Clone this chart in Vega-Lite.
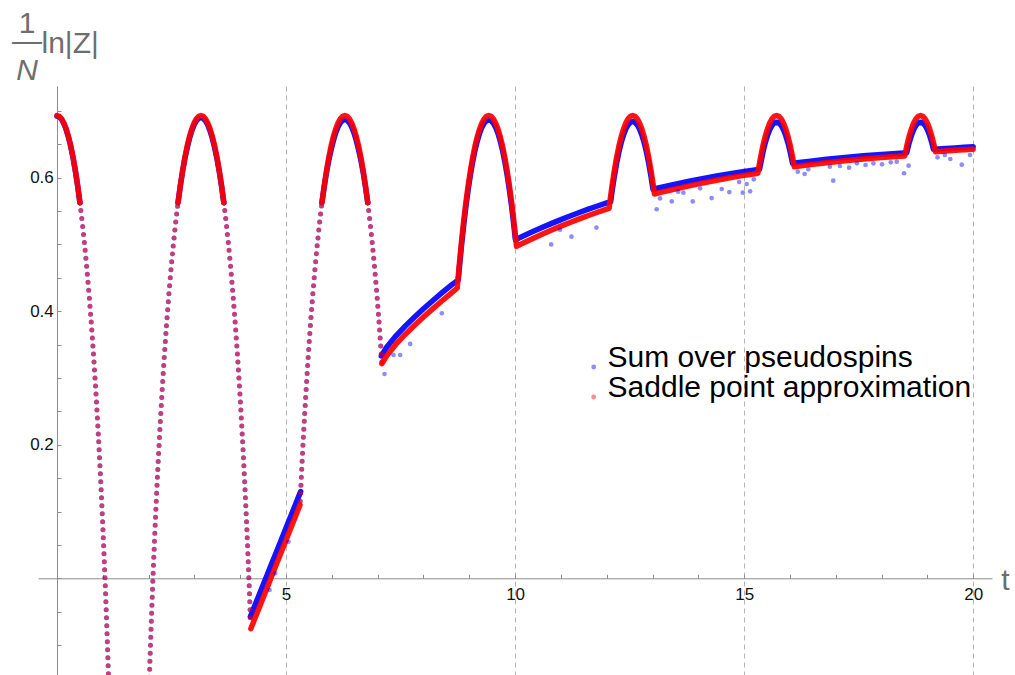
{
  "$schema": "https://vega.github.io/schema/vega-lite/v6.json",
  "width": 954,
  "height": 589,
  "autosize": {"type": "none"},
  "padding": {"left": 38, "top": 86, "right": 23, "bottom": 0},
  "background": "white",
  "config": {"view": {"stroke": null}, "font": "Liberation Sans"},
  "title": {
    "text": "1",
    "subtitle": ["—", "N"],
    "anchor": "start",
    "frame": "group",
    "align": "center",
    "dx": -11,
    "offset": -57.2,
    "font": "Liberation Sans",
    "fontSize": 30,
    "fontWeight": "normal",
    "color": "#6e6e6e",
    "subtitleFont": "Liberation Sans",
    "subtitleFontSize": 30,
    "subtitleFontStyle": "italic",
    "subtitleColor": "#6e6e6e",
    "subtitleLineHeight": 28.7,
    "subtitlePadding": -12
  },
  "datasets": {
    "grid": [{"v": 0.2}, {"v": 0.4}, {"v": 0.6}],
    "sum_band": [
      {"t": 0, "v": 0.6921, "s": 1}, {"t": 0.05, "v": 0.6909, "s": 1}, {"t": 0.1, "v": 0.6871, "s": 1}, {"t": 0.15, "v": 0.6809, "s": 1}, {"t": 0.2, "v": 0.672, "s": 1}, {"t": 0.25, "v": 0.6606, "s": 1}, {"t": 0.3, "v": 0.6465, "s": 1}, {"t": 0.35, "v": 0.6299, "s": 1}, {"t": 0.4, "v": 0.6104, "s": 1}, {"t": 0.45, "v": 0.588, "s": 1}, {"t": 0.5, "v": 0.5626, "s": 1},
      {"t": 2.6416, "v": 0.5626, "s": 2}, {"t": 2.6916, "v": 0.5873, "s": 2}, {"t": 2.7416, "v": 0.6094, "s": 2}, {"t": 2.7916, "v": 0.6286, "s": 2}, {"t": 2.8416, "v": 0.6445, "s": 2}, {"t": 2.8916, "v": 0.6586, "s": 2}, {"t": 2.9416, "v": 0.67, "s": 2}, {"t": 2.9916, "v": 0.6789, "s": 2}, {"t": 3.0416, "v": 0.6851, "s": 2}, {"t": 3.0916, "v": 0.6889, "s": 2}, {"t": 3.1416, "v": 0.6901, "s": 2}, {"t": 3.1916, "v": 0.6889, "s": 2}, {"t": 3.2416, "v": 0.6851, "s": 2}, {"t": 3.2916, "v": 0.6789, "s": 2}, {"t": 3.3416, "v": 0.67, "s": 2}, {"t": 3.3916, "v": 0.6586, "s": 2}, {"t": 3.4416, "v": 0.6445, "s": 2}, {"t": 3.4916, "v": 0.6286, "s": 2}, {"t": 3.5416, "v": 0.6094, "s": 2}, {"t": 3.5916, "v": 0.5873, "s": 2}, {"t": 3.6416, "v": 0.5626, "s": 2},
      {"t": 4.2205, "v": -0.0575, "s": 3}, {"t": 4.3, "v": -0.0439, "s": 3}, {"t": 4.4, "v": -0.0268, "s": 3}, {"t": 4.5, "v": -0.0098, "s": 3}, {"t": 4.6, "v": 0.0073, "s": 3}, {"t": 4.7, "v": 0.0244, "s": 3}, {"t": 4.8, "v": 0.0414, "s": 3}, {"t": 4.9, "v": 0.0585, "s": 3}, {"t": 5.0, "v": 0.0756, "s": 3}, {"t": 5.1, "v": 0.0926, "s": 3}, {"t": 5.2, "v": 0.1097, "s": 3}, {"t": 5.3, "v": 0.1268, "s": 3}, {"t": 5.319, "v": 0.13, "s": 3},
      {"t": 5.7832, "v": 0.5626, "s": 4}, {"t": 5.8332, "v": 0.5863, "s": 4}, {"t": 5.8832, "v": 0.6079, "s": 4}, {"t": 5.9332, "v": 0.6261, "s": 4}, {"t": 5.9832, "v": 0.6415, "s": 4}, {"t": 6.0332, "v": 0.6556, "s": 4}, {"t": 6.0832, "v": 0.667, "s": 4}, {"t": 6.1332, "v": 0.6759, "s": 4}, {"t": 6.1832, "v": 0.6821, "s": 4}, {"t": 6.2332, "v": 0.6859, "s": 4}, {"t": 6.2832, "v": 0.6871, "s": 4}, {"t": 6.3332, "v": 0.6859, "s": 4}, {"t": 6.3832, "v": 0.6821, "s": 4}, {"t": 6.4332, "v": 0.6759, "s": 4}, {"t": 6.4832, "v": 0.667, "s": 4}, {"t": 6.5332, "v": 0.6556, "s": 4}, {"t": 6.5832, "v": 0.6415, "s": 4}, {"t": 6.6332, "v": 0.6261, "s": 4}, {"t": 6.6832, "v": 0.6079, "s": 4}, {"t": 6.7332, "v": 0.5863, "s": 4}, {"t": 6.7832, "v": 0.5626, "s": 4},
      {"t": 7.08, "v": 0.333, "s": 5}, {"t": 7.2, "v": 0.3466, "s": 5}, {"t": 7.4, "v": 0.3632, "s": 5}, {"t": 7.6, "v": 0.3777, "s": 5}, {"t": 7.8, "v": 0.391, "s": 5}, {"t": 8.0, "v": 0.4037, "s": 5}, {"t": 8.2, "v": 0.4157, "s": 5}, {"t": 8.4, "v": 0.4274, "s": 5}, {"t": 8.6, "v": 0.4387, "s": 5}, {"t": 8.7598, "v": 0.447, "s": 5},
      {"t": 8.7748, "v": 0.4586, "s": 5}, {"t": 8.8248, "v": 0.4947, "s": 5}, {"t": 8.8748, "v": 0.5271, "s": 5}, {"t": 8.9248, "v": 0.5561, "s": 5}, {"t": 8.9748, "v": 0.5818, "s": 5}, {"t": 9.0248, "v": 0.6044, "s": 5}, {"t": 9.0748, "v": 0.6241, "s": 5}, {"t": 9.1248, "v": 0.641, "s": 5}, {"t": 9.1748, "v": 0.6551, "s": 5}, {"t": 9.2248, "v": 0.6665, "s": 5}, {"t": 9.2748, "v": 0.6754, "s": 5}, {"t": 9.3248, "v": 0.6816, "s": 5}, {"t": 9.3748, "v": 0.6854, "s": 5}, {"t": 9.4248, "v": 0.6866, "s": 5}, {"t": 9.4748, "v": 0.6854, "s": 5}, {"t": 9.5248, "v": 0.6816, "s": 5}, {"t": 9.5748, "v": 0.6754, "s": 5}, {"t": 9.6248, "v": 0.6665, "s": 5}, {"t": 9.6748, "v": 0.6551, "s": 5}, {"t": 9.7248, "v": 0.641, "s": 5}, {"t": 9.7748, "v": 0.6241, "s": 5}, {"t": 9.8248, "v": 0.6044, "s": 5}, {"t": 9.8748, "v": 0.5818, "s": 5}, {"t": 9.9248, "v": 0.5561, "s": 5}, {"t": 9.9748, "v": 0.5271, "s": 5}, {"t": 10.0065, "v": 0.507, "s": 5},
      {"t": 10.2, "v": 0.5133, "s": 5}, {"t": 10.4, "v": 0.5196, "s": 5}, {"t": 10.6, "v": 0.5257, "s": 5}, {"t": 10.8, "v": 0.5316, "s": 5}, {"t": 11.0, "v": 0.5372, "s": 5}, {"t": 11.2, "v": 0.5426, "s": 5}, {"t": 11.4, "v": 0.5479, "s": 5}, {"t": 11.6, "v": 0.5529, "s": 5}, {"t": 11.8, "v": 0.5576, "s": 5}, {"t": 12.0, "v": 0.5621, "s": 5}, {"t": 12.086, "v": 0.564, "s": 5},
      {"t": 12.1164, "v": 0.5793, "s": 5}, {"t": 12.1664, "v": 0.6019, "s": 5}, {"t": 12.2164, "v": 0.6216, "s": 5}, {"t": 12.2664, "v": 0.6385, "s": 5}, {"t": 12.3164, "v": 0.6526, "s": 5}, {"t": 12.3664, "v": 0.664, "s": 5}, {"t": 12.4164, "v": 0.6729, "s": 5}, {"t": 12.4664, "v": 0.6791, "s": 5}, {"t": 12.5164, "v": 0.6829, "s": 5}, {"t": 12.5664, "v": 0.6841, "s": 5}, {"t": 12.6164, "v": 0.6829, "s": 5}, {"t": 12.6664, "v": 0.6791, "s": 5}, {"t": 12.7164, "v": 0.6729, "s": 5}, {"t": 12.7664, "v": 0.664, "s": 5}, {"t": 12.8164, "v": 0.6526, "s": 5}, {"t": 12.8664, "v": 0.6385, "s": 5}, {"t": 12.9164, "v": 0.6216, "s": 5}, {"t": 12.9664, "v": 0.6019, "s": 5}, {"t": 13.0096, "v": 0.5826, "s": 5},
      {"t": 13.2, "v": 0.5857, "s": 5}, {"t": 13.4, "v": 0.5887, "s": 5}, {"t": 13.6, "v": 0.5917, "s": 5}, {"t": 13.8, "v": 0.5946, "s": 5}, {"t": 14.0, "v": 0.5974, "s": 5}, {"t": 14.2, "v": 0.5999, "s": 5}, {"t": 14.4, "v": 0.6024, "s": 5}, {"t": 14.6, "v": 0.6048, "s": 5}, {"t": 14.8, "v": 0.6071, "s": 5}, {"t": 15.0, "v": 0.6093, "s": 5}, {"t": 15.2, "v": 0.6112, "s": 5}, {"t": 15.3368, "v": 0.6126, "s": 5},
      {"t": 15.358, "v": 0.6206, "s": 5}, {"t": 15.408, "v": 0.6375, "s": 5}, {"t": 15.458, "v": 0.6516, "s": 5}, {"t": 15.508, "v": 0.663, "s": 5}, {"t": 15.558, "v": 0.6719, "s": 5}, {"t": 15.608, "v": 0.6781, "s": 5}, {"t": 15.658, "v": 0.6819, "s": 5}, {"t": 15.708, "v": 0.6831, "s": 5}, {"t": 15.758, "v": 0.6819, "s": 5}, {"t": 15.808, "v": 0.6781, "s": 5}, {"t": 15.858, "v": 0.6719, "s": 5}, {"t": 15.908, "v": 0.663, "s": 5}, {"t": 15.958, "v": 0.6516, "s": 5}, {"t": 16.008, "v": 0.6375, "s": 5}, {"t": 16.0555, "v": 0.6215, "s": 5},
      {"t": 16.4, "v": 0.6244, "s": 5}, {"t": 16.8, "v": 0.6275, "s": 5}, {"t": 17.2, "v": 0.6303, "s": 5}, {"t": 17.6, "v": 0.6327, "s": 5}, {"t": 18.0, "v": 0.6349, "s": 5}, {"t": 18.4, "v": 0.6367, "s": 5}, {"t": 18.5496, "v": 0.6374, "s": 5},
      {"t": 18.5996, "v": 0.6516, "s": 5}, {"t": 18.6496, "v": 0.663, "s": 5}, {"t": 18.6996, "v": 0.6719, "s": 5}, {"t": 18.7496, "v": 0.6781, "s": 5}, {"t": 18.7996, "v": 0.6819, "s": 5}, {"t": 18.8496, "v": 0.6831, "s": 5}, {"t": 18.8996, "v": 0.6819, "s": 5}, {"t": 18.9496, "v": 0.6781, "s": 5}, {"t": 18.9996, "v": 0.6719, "s": 5}, {"t": 19.0496, "v": 0.663, "s": 5}, {"t": 19.0996, "v": 0.6516, "s": 5}, {"t": 19.1328, "v": 0.6425, "s": 5},
      {"t": 19.4, "v": 0.6437, "s": 5}, {"t": 19.6, "v": 0.6446, "s": 5}, {"t": 19.8, "v": 0.6455, "s": 5}, {"t": 20.0, "v": 0.6464, "s": 5}
    ],
    "saddle_band": [
      {"t": 0, "v": 0.6931, "s": 1}, {"t": 0.05, "v": 0.6919, "s": 1}, {"t": 0.1, "v": 0.6881, "s": 1}, {"t": 0.15, "v": 0.6819, "s": 1}, {"t": 0.2, "v": 0.673, "s": 1}, {"t": 0.25, "v": 0.6616, "s": 1}, {"t": 0.3, "v": 0.6475, "s": 1}, {"t": 0.35, "v": 0.6306, "s": 1}, {"t": 0.4, "v": 0.6109, "s": 1}, {"t": 0.45, "v": 0.5883, "s": 1}, {"t": 0.5, "v": 0.5626, "s": 1},
      {"t": 2.6416, "v": 0.5626, "s": 2}, {"t": 2.6916, "v": 0.5883, "s": 2}, {"t": 2.7416, "v": 0.6109, "s": 2}, {"t": 2.7916, "v": 0.6306, "s": 2}, {"t": 2.8416, "v": 0.6475, "s": 2}, {"t": 2.8916, "v": 0.6616, "s": 2}, {"t": 2.9416, "v": 0.673, "s": 2}, {"t": 2.9916, "v": 0.6819, "s": 2}, {"t": 3.0416, "v": 0.6881, "s": 2}, {"t": 3.0916, "v": 0.6919, "s": 2}, {"t": 3.1416, "v": 0.6931, "s": 2}, {"t": 3.1916, "v": 0.6919, "s": 2}, {"t": 3.2416, "v": 0.6881, "s": 2}, {"t": 3.2916, "v": 0.6819, "s": 2}, {"t": 3.3416, "v": 0.673, "s": 2}, {"t": 3.3916, "v": 0.6616, "s": 2}, {"t": 3.4416, "v": 0.6475, "s": 2}, {"t": 3.4916, "v": 0.6306, "s": 2}, {"t": 3.5416, "v": 0.6109, "s": 2}, {"t": 3.5916, "v": 0.5883, "s": 2}, {"t": 3.6416, "v": 0.5626, "s": 2},
      {"t": 4.2306, "v": -0.0755, "s": 3}, {"t": 4.3, "v": -0.0635, "s": 3}, {"t": 4.4, "v": -0.0462, "s": 3}, {"t": 4.5, "v": -0.029, "s": 3}, {"t": 4.6, "v": -0.0117, "s": 3}, {"t": 4.7, "v": 0.0056, "s": 3}, {"t": 4.8, "v": 0.0229, "s": 3}, {"t": 4.9, "v": 0.0402, "s": 3}, {"t": 5.0, "v": 0.0575, "s": 3}, {"t": 5.1, "v": 0.0748, "s": 3}, {"t": 5.2, "v": 0.092, "s": 3}, {"t": 5.304, "v": 0.11, "s": 3},
      {"t": 5.7832, "v": 0.5626, "s": 4}, {"t": 5.8332, "v": 0.5883, "s": 4}, {"t": 5.8832, "v": 0.6109, "s": 4}, {"t": 5.9332, "v": 0.6306, "s": 4}, {"t": 5.9832, "v": 0.6475, "s": 4}, {"t": 6.0332, "v": 0.6616, "s": 4}, {"t": 6.0832, "v": 0.673, "s": 4}, {"t": 6.1332, "v": 0.6819, "s": 4}, {"t": 6.1832, "v": 0.6881, "s": 4}, {"t": 6.2332, "v": 0.6919, "s": 4}, {"t": 6.2832, "v": 0.6931, "s": 4}, {"t": 6.3332, "v": 0.6919, "s": 4}, {"t": 6.3832, "v": 0.6881, "s": 4}, {"t": 6.4332, "v": 0.6819, "s": 4}, {"t": 6.4832, "v": 0.673, "s": 4}, {"t": 6.5332, "v": 0.6616, "s": 4}, {"t": 6.5832, "v": 0.6475, "s": 4}, {"t": 6.6332, "v": 0.6306, "s": 4}, {"t": 6.6832, "v": 0.6109, "s": 4}, {"t": 6.7332, "v": 0.5883, "s": 4}, {"t": 6.7832, "v": 0.5626, "s": 4},
      {"t": 7.0932, "v": 0.3214, "s": 5}, {"t": 7.2, "v": 0.3337, "s": 5}, {"t": 7.4, "v": 0.3506, "s": 5}, {"t": 7.6, "v": 0.3652, "s": 5}, {"t": 7.8, "v": 0.3787, "s": 5}, {"t": 8.0, "v": 0.3914, "s": 5}, {"t": 8.2, "v": 0.4036, "s": 5}, {"t": 8.4, "v": 0.4153, "s": 5}, {"t": 8.6, "v": 0.4267, "s": 5}, {"t": 8.7365, "v": 0.4348, "s": 5},
      {"t": 8.7748, "v": 0.4651, "s": 5}, {"t": 8.8248, "v": 0.5012, "s": 5}, {"t": 8.8748, "v": 0.5336, "s": 5}, {"t": 8.9248, "v": 0.5626, "s": 5}, {"t": 8.9748, "v": 0.5883, "s": 5}, {"t": 9.0248, "v": 0.6109, "s": 5}, {"t": 9.0748, "v": 0.6306, "s": 5}, {"t": 9.1248, "v": 0.6475, "s": 5}, {"t": 9.1748, "v": 0.6616, "s": 5}, {"t": 9.2248, "v": 0.673, "s": 5}, {"t": 9.2748, "v": 0.6819, "s": 5}, {"t": 9.3248, "v": 0.6881, "s": 5}, {"t": 9.3748, "v": 0.6919, "s": 5}, {"t": 9.4248, "v": 0.6931, "s": 5}, {"t": 9.4748, "v": 0.6919, "s": 5}, {"t": 9.5248, "v": 0.6881, "s": 5}, {"t": 9.5748, "v": 0.6819, "s": 5}, {"t": 9.6248, "v": 0.673, "s": 5}, {"t": 9.6748, "v": 0.6616, "s": 5}, {"t": 9.7248, "v": 0.6475, "s": 5}, {"t": 9.7748, "v": 0.6306, "s": 5}, {"t": 9.8248, "v": 0.6109, "s": 5}, {"t": 9.8748, "v": 0.5883, "s": 5}, {"t": 9.9248, "v": 0.5626, "s": 5}, {"t": 9.9748, "v": 0.5336, "s": 5}, {"t": 10.0248, "v": 0.5012, "s": 5}, {"t": 10.0308, "v": 0.4971, "s": 5},
      {"t": 10.2, "v": 0.5028, "s": 5}, {"t": 10.4, "v": 0.5093, "s": 5}, {"t": 10.6, "v": 0.5155, "s": 5}, {"t": 10.8, "v": 0.5216, "s": 5}, {"t": 11.0, "v": 0.5274, "s": 5}, {"t": 11.2, "v": 0.5329, "s": 5}, {"t": 11.4, "v": 0.5383, "s": 5}, {"t": 11.6, "v": 0.5434, "s": 5}, {"t": 11.8, "v": 0.5482, "s": 5}, {"t": 12.0, "v": 0.5529, "s": 5}, {"t": 12.051, "v": 0.554, "s": 5},
      {"t": 12.0664, "v": 0.5626, "s": 5}, {"t": 12.1164, "v": 0.5883, "s": 5}, {"t": 12.1664, "v": 0.6109, "s": 5}, {"t": 12.2164, "v": 0.6306, "s": 5}, {"t": 12.2664, "v": 0.6475, "s": 5}, {"t": 12.3164, "v": 0.6616, "s": 5}, {"t": 12.3664, "v": 0.673, "s": 5}, {"t": 12.4164, "v": 0.6819, "s": 5}, {"t": 12.4664, "v": 0.6881, "s": 5}, {"t": 12.5164, "v": 0.6919, "s": 5}, {"t": 12.5664, "v": 0.6931, "s": 5}, {"t": 12.6164, "v": 0.6919, "s": 5}, {"t": 12.6664, "v": 0.6881, "s": 5}, {"t": 12.7164, "v": 0.6819, "s": 5}, {"t": 12.7664, "v": 0.673, "s": 5}, {"t": 12.8164, "v": 0.6616, "s": 5}, {"t": 12.8664, "v": 0.6475, "s": 5}, {"t": 12.9164, "v": 0.6306, "s": 5}, {"t": 12.9664, "v": 0.6109, "s": 5}, {"t": 13.0164, "v": 0.5883, "s": 5}, {"t": 13.0418, "v": 0.5756, "s": 5},
      {"t": 13.2, "v": 0.5783, "s": 5}, {"t": 13.4, "v": 0.5816, "s": 5}, {"t": 13.6, "v": 0.5848, "s": 5}, {"t": 13.8, "v": 0.5878, "s": 5}, {"t": 14.0, "v": 0.5908, "s": 5}, {"t": 14.2, "v": 0.5935, "s": 5}, {"t": 14.4, "v": 0.5962, "s": 5}, {"t": 14.6, "v": 0.5987, "s": 5}, {"t": 14.8, "v": 0.6012, "s": 5}, {"t": 15.0, "v": 0.6034, "s": 5}, {"t": 15.2, "v": 0.6056, "s": 5}, {"t": 15.298, "v": 0.6066, "s": 5},
      {"t": 15.308, "v": 0.6109, "s": 5}, {"t": 15.358, "v": 0.6306, "s": 5}, {"t": 15.408, "v": 0.6475, "s": 5}, {"t": 15.458, "v": 0.6616, "s": 5}, {"t": 15.508, "v": 0.673, "s": 5}, {"t": 15.558, "v": 0.6819, "s": 5}, {"t": 15.608, "v": 0.6881, "s": 5}, {"t": 15.658, "v": 0.6919, "s": 5}, {"t": 15.708, "v": 0.6931, "s": 5}, {"t": 15.758, "v": 0.6919, "s": 5}, {"t": 15.808, "v": 0.6881, "s": 5}, {"t": 15.858, "v": 0.6819, "s": 5}, {"t": 15.908, "v": 0.673, "s": 5}, {"t": 15.958, "v": 0.6616, "s": 5}, {"t": 16.008, "v": 0.6475, "s": 5}, {"t": 16.058, "v": 0.6306, "s": 5}, {"t": 16.0945, "v": 0.6165, "s": 5},
      {"t": 16.4, "v": 0.6192, "s": 5}, {"t": 16.8, "v": 0.6224, "s": 5}, {"t": 17.2, "v": 0.6253, "s": 5}, {"t": 17.6, "v": 0.6279, "s": 5}, {"t": 18.0, "v": 0.6301, "s": 5}, {"t": 18.4, "v": 0.632, "s": 5}, {"t": 18.5048, "v": 0.6325, "s": 5},
      {"t": 18.5496, "v": 0.6475, "s": 5}, {"t": 18.5996, "v": 0.6616, "s": 5}, {"t": 18.6496, "v": 0.673, "s": 5}, {"t": 18.6996, "v": 0.6819, "s": 5}, {"t": 18.7496, "v": 0.6881, "s": 5}, {"t": 18.7996, "v": 0.6919, "s": 5}, {"t": 18.8496, "v": 0.6931, "s": 5}, {"t": 18.8996, "v": 0.6919, "s": 5}, {"t": 18.9496, "v": 0.6881, "s": 5}, {"t": 18.9996, "v": 0.6819, "s": 5}, {"t": 19.0496, "v": 0.673, "s": 5}, {"t": 19.0996, "v": 0.6616, "s": 5}, {"t": 19.1496, "v": 0.6475, "s": 5}, {"t": 19.1757, "v": 0.639, "s": 5},
      {"t": 19.4, "v": 0.6401, "s": 5}, {"t": 19.6, "v": 0.6411, "s": 5}, {"t": 19.8, "v": 0.6419, "s": 5}, {"t": 20.0, "v": 0.6427, "s": 5}
    ],
    "edges": [
      {"t": 0.5, "v": 0.5626, "s": 1}, {"t": 0.55, "v": 0.5336, "s": 1}, {"t": 0.6, "v": 0.5012, "s": 1}, {"t": 0.65, "v": 0.4651, "s": 1}, {"t": 0.7, "v": 0.4251, "s": 1}, {"t": 0.75, "v": 0.3807, "s": 1}, {"t": 0.8, "v": 0.3318, "s": 1}, {"t": 0.85, "v": 0.2776, "s": 1}, {"t": 0.9, "v": 0.2177, "s": 1}, {"t": 0.925, "v": 0.1854, "s": 1}, {"t": 0.95, "v": 0.1513, "s": 1}, {"t": 0.975, "v": 0.1154, "s": 1}, {"t": 1.0, "v": 0.0775, "s": 1}, {"t": 1.025, "v": 0.0375, "s": 1}, {"t": 1.05, "v": -0.0049, "s": 1}, {"t": 1.075, "v": -0.0498, "s": 1}, {"t": 1.1, "v": -0.0974, "s": 1}, {"t": 1.125, "v": -0.1481, "s": 1},
      {"t": 2.0166, "v": -0.1481, "s": 2}, {"t": 2.0416, "v": -0.0974, "s": 2}, {"t": 2.0666, "v": -0.0498, "s": 2}, {"t": 2.0916, "v": -0.0049, "s": 2}, {"t": 2.1166, "v": 0.0375, "s": 2}, {"t": 2.1416, "v": 0.0775, "s": 2}, {"t": 2.1666, "v": 0.1154, "s": 2}, {"t": 2.1916, "v": 0.1513, "s": 2}, {"t": 2.2166, "v": 0.1854, "s": 2}, {"t": 2.2416, "v": 0.2177, "s": 2}, {"t": 2.2916, "v": 0.2776, "s": 2}, {"t": 2.3416, "v": 0.3318, "s": 2}, {"t": 2.3916, "v": 0.3807, "s": 2}, {"t": 2.4416, "v": 0.4251, "s": 2}, {"t": 2.4916, "v": 0.4651, "s": 2}, {"t": 2.5416, "v": 0.5012, "s": 2}, {"t": 2.5916, "v": 0.5336, "s": 2}, {"t": 2.6416, "v": 0.5626, "s": 2},
      {"t": 3.6416, "v": 0.5626, "s": 3}, {"t": 3.6916, "v": 0.5336, "s": 3}, {"t": 3.7416, "v": 0.5012, "s": 3}, {"t": 3.7916, "v": 0.4651, "s": 3}, {"t": 3.8416, "v": 0.4251, "s": 3}, {"t": 3.8916, "v": 0.3807, "s": 3}, {"t": 3.9416, "v": 0.3318, "s": 3}, {"t": 3.9916, "v": 0.2776, "s": 3}, {"t": 4.0416, "v": 0.2177, "s": 3}, {"t": 4.0666, "v": 0.1854, "s": 3}, {"t": 4.0916, "v": 0.1513, "s": 3}, {"t": 4.1166, "v": 0.1154, "s": 3}, {"t": 4.1416, "v": 0.0775, "s": 3}, {"t": 4.1666, "v": 0.0375, "s": 3}, {"t": 4.1916, "v": -0.0049, "s": 3}, {"t": 4.2166, "v": -0.0498, "s": 3}, {"t": 4.2216, "v": -0.0591, "s": 3},
      {"t": 5.3082, "v": 0.1154, "s": 4}, {"t": 5.3332, "v": 0.1513, "s": 4}, {"t": 5.3582, "v": 0.1854, "s": 4}, {"t": 5.3832, "v": 0.2177, "s": 4}, {"t": 5.4332, "v": 0.2776, "s": 4}, {"t": 5.4832, "v": 0.3318, "s": 4}, {"t": 5.5332, "v": 0.3807, "s": 4}, {"t": 5.5832, "v": 0.4251, "s": 4}, {"t": 5.6332, "v": 0.4651, "s": 4}, {"t": 5.6832, "v": 0.5012, "s": 4}, {"t": 5.7332, "v": 0.5336, "s": 4}, {"t": 5.7832, "v": 0.5626, "s": 4},
      {"t": 6.7832, "v": 0.5626, "s": 5}, {"t": 6.8332, "v": 0.5336, "s": 5}, {"t": 6.8832, "v": 0.5012, "s": 5}, {"t": 6.9332, "v": 0.4651, "s": 5}, {"t": 6.9832, "v": 0.4251, "s": 5}, {"t": 7.0332, "v": 0.3807, "s": 5}, {"t": 7.0832, "v": 0.3318, "s": 5}, {"t": 7.0932, "v": 0.3214, "s": 5}
    ],
    "outliers": [
      {"t": 4.64, "v": -0.0175}, {"t": 4.763, "v": 0.0075}, {"t": 5.054, "v": 0.0548},
      {"t": 7.149, "v": 0.306}, {"t": 7.345, "v": 0.3344}, {"t": 7.49, "v": 0.3344}, {"t": 7.709, "v": 0.351}, {"t": 8.4, "v": 0.397},
      {"t": 10.786, "v": 0.5}, {"t": 10.98, "v": 0.522}, {"t": 11.23, "v": 0.5116}, {"t": 11.775, "v": 0.5253},
      {"t": 13.09, "v": 0.5527}, {"t": 13.164, "v": 0.569}, {"t": 13.42, "v": 0.5645}, {"t": 13.56, "v": 0.579}, {"t": 13.673, "v": 0.5775}, {"t": 13.877, "v": 0.5645}, {"t": 14.04, "v": 0.584}, {"t": 14.29, "v": 0.5695}, {"t": 14.51, "v": 0.583}, {"t": 14.676, "v": 0.5785}, {"t": 14.89, "v": 0.5935}, {"t": 14.97, "v": 0.5775}, {"t": 15.055, "v": 0.5905}, {"t": 15.13, "v": 0.5795}, {"t": 15.21, "v": 0.5975},
      {"t": 16.17, "v": 0.609}, {"t": 16.32, "v": 0.6055}, {"t": 16.4, "v": 0.6126}, {"t": 16.87, "v": 0.6165}, {"t": 16.945, "v": 0.5955}, {"t": 17.09, "v": 0.6175}, {"t": 17.29, "v": 0.615}, {"t": 17.46, "v": 0.6215}, {"t": 17.65, "v": 0.619}, {"t": 17.82, "v": 0.6215}, {"t": 18.01, "v": 0.62}, {"t": 18.2, "v": 0.623}, {"t": 18.33, "v": 0.624}, {"t": 18.49, "v": 0.6066}, {"t": 18.59, "v": 0.618},
      {"t": 19.22, "v": 0.6305}, {"t": 19.38, "v": 0.634}, {"t": 19.5, "v": 0.628}, {"t": 19.75, "v": 0.6195}, {"t": 19.93, "v": 0.634}
    ]
  },
  "encoding": {
    "x": {
      "field": "t",
      "type": "quantitative",
      "scale": {"domain": [-0.415, 20.41], "nice": false, "zero": false},
      "axis": {
        "values": [1, 2, 3, 4, 5, 6, 7, 8, 9, 10, 11, 12, 13, 14, 15, 16, 17, 18, 19, 20],
        "format": "d",
        "labelExpr": "datum.value % 5 === 0 ? datum.label : ''",
        "offset": -96.7,
        "domainColor": "#8c8c8c",
        "tickColor": "#8c8c8c",
        "tickSize": -4,
        "labelFont": "Liberation Sans",
        "labelFontSize": 17,
        "labelColor": "#111111",
        "labelPadding": 12,
        "labelFlush": false,
        "labelOverlap": false,
        "labelBound": false,
        "grid": true,
        "gridColor": "#b4b4b4",
        "gridDash": [5, 4],
        "gridOpacity": {"condition": {"test": "datum.value % 5 === 0", "value": 1}, "value": 0},
        "title": "t",
        "titleFont": "Liberation Sans",
        "titleFontSize": 30,
        "titleFontWeight": "normal",
        "titleColor": "#6e6e6e",
        "titleX": 967,
        "titleY": 10.7,
        "titleAlign": "center",
        "titleBaseline": "alphabetic"
      }
    },
    "y": {
      "field": "v",
      "type": "quantitative",
      "scale": {"domain": [-0.1448, 0.7373], "nice": false, "zero": false},
      "axis": {
        "values": [-0.1, -0.05, 0, 0.05, 0.1, 0.15, 0.2, 0.25, 0.3, 0.35, 0.4, 0.45, 0.5, 0.55, 0.6, 0.65, 0.7],
        "format": ".1f",
        "labelExpr": "datum.value == 0.2 || datum.value == 0.4 || datum.value == 0.6 ? datum.label : ''",
        "offset": -19,
        "domainColor": "#8c8c8c",
        "tickColor": "#8c8c8c",
        "tickSize": -4,
        "labelFont": "Liberation Sans",
        "labelFontSize": 17,
        "labelColor": "#111111",
        "labelPadding": 7.7,
        "labelOverlap": false,
        "labelBound": false,
        "grid": false,
        "title": "ln|Z|",
        "titleFont": "Liberation Sans",
        "titleFontSize": 30,
        "titleFontWeight": "normal",
        "titleColor": "#6e6e6e",
        "titleAngle": 0,
        "titleX": -16,
        "titleY": -33.5,
        "titleAlign": "left",
        "titleBaseline": "alphabetic"
      }
    }
  },
  "layer": [
    {
      "data": {"name": "grid"},
      "mark": {"type": "rule", "color": "#b4b4b4", "strokeDash": [5, 4], "strokeWidth": 1},
      "encoding": {"x": {"datum": 0}, "x2": {"datum": 20.41}}
    },
    {
      "data": {"name": "sum_band"},
      "mark": {"type": "line", "color": "#0000ff", "strokeWidth": 5.5, "strokeCap": "round", "strokeJoin": "round", "opacity": 0.92, "clip": true},
      "encoding": {"detail": {"field": "s", "type": "nominal"}}
    },
    {
      "data": {"name": "edges"},
      "mark": {"type": "line", "color": "#0000ff", "strokeWidth": 5, "strokeCap": "round", "strokeDash": [0, 8], "opacity": 0.5, "clip": true},
      "encoding": {"detail": {"field": "s", "type": "nominal"}}
    },
    {
      "data": {"name": "saddle_band"},
      "mark": {"type": "line", "color": "#ff0000", "strokeWidth": 5.5, "strokeCap": "round", "strokeJoin": "round", "opacity": 0.92, "clip": true},
      "encoding": {"detail": {"field": "s", "type": "nominal"}}
    },
    {
      "data": {"name": "edges"},
      "mark": {"type": "line", "color": "#ff0000", "strokeWidth": 5, "strokeCap": "round", "strokeDash": [0, 8], "opacity": 0.5, "clip": true},
      "encoding": {"detail": {"field": "s", "type": "nominal"}}
    },
    {
      "data": {"name": "outliers"},
      "mark": {"type": "point", "filled": true, "size": 22, "opacity": 0.45, "clip": true},
      "encoding": {
        "color": {
          "datum": "Sum over pseudospins",
          "type": "nominal",
          "scale": {"domain": ["Sum over pseudospins", "Saddle point approximation"], "range": ["#0000ff", "#ff0000"]},
          "legend": {
            "orient": "none",
            "legendX": 540.7,
            "legendY": 266,
            "title": null,
            "padding": 0,
            "labelFont": "Liberation Sans",
            "labelFontSize": 30,
            "labelColor": "#000000",
            "labelLimit": 600,
            "labelBaseline": "alphabetic",
            "labelOffset": -1.1,
            "rowPadding": 0,
            "symbolType": "circle",
            "symbolSize": 24,
            "symbolOpacity": 0.45,
            "symbolStrokeWidth": 0
          }
        }
      }
    }
  ]
}
